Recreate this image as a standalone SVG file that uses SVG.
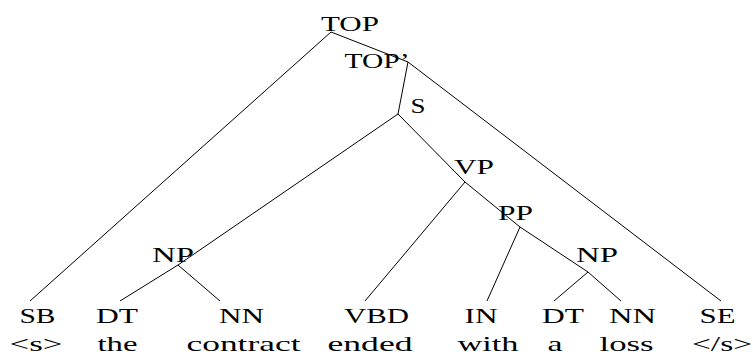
<svg xmlns="http://www.w3.org/2000/svg" width="753" height="356" viewBox="0 0 753 356">
<style>
text{font-family:"Liberation Serif","Times New Roman",serif;fill:#000;text-anchor:middle}
.n{font-size:20px}
.w{font-size:22px}
.e{stroke:#000;stroke-width:1;fill:none}
</style>
<rect width="753" height="356" fill="#fff"/>
<g id="connectors">
<line class="e" x1="331" y1="32" x2="30" y2="301"/>
<line class="e" x1="331" y1="32" x2="408" y2="62"/>
<line class="e" x1="408" y1="62" x2="398" y2="114"/>
<line class="e" x1="408" y1="62" x2="721" y2="301"/>
<line class="e" x1="398" y1="114" x2="178" y2="265"/>
<line class="e" x1="398" y1="114" x2="465" y2="182"/>
<line class="e" x1="178" y1="265" x2="120" y2="301"/>
<line class="e" x1="178" y1="265" x2="220" y2="301"/>
<line class="e" x1="465" y1="182" x2="365" y2="301"/>
<line class="e" x1="465" y1="182" x2="520" y2="227"/>
<line class="e" x1="520" y1="227" x2="487" y2="301"/>
<line class="e" x1="520" y1="227" x2="588" y2="272"/>
<line class="e" x1="588" y1="272" x2="554" y2="301"/>
<line class="e" x1="588" y1="272" x2="621" y2="301"/>
</g>
<g id="TOP"><text class="n" x="350" y="31" textLength="58" lengthAdjust="spacingAndGlyphs">TOP</text></g>
<g id="TOPp"><text class="n" x="377" y="68" textLength="65" lengthAdjust="spacingAndGlyphs">TOP’</text></g>
<g id="S"><text class="n" x="418" y="113" textLength="15" lengthAdjust="spacingAndGlyphs">S</text></g>
<g id="VP"><text class="n" x="474" y="174" textLength="40" lengthAdjust="spacingAndGlyphs">VP</text></g>
<g id="PP"><text class="n" x="515.5" y="220" textLength="35" lengthAdjust="spacingAndGlyphs">PP</text></g>
<g id="NP1"><text class="n" x="173" y="262" textLength="42" lengthAdjust="spacingAndGlyphs">NP</text></g>
<g id="NP2"><text class="n" x="597" y="262" textLength="42" lengthAdjust="spacingAndGlyphs">NP</text></g>
<g id="SB"><text class="n" x="37.5" y="323" textLength="36" lengthAdjust="spacingAndGlyphs">SB</text><text class="w" x="36" y="351" textLength="53" lengthAdjust="spacingAndGlyphs">&lt;s&gt;</text></g>
<g id="DT1"><text class="n" x="117" y="323" textLength="42" lengthAdjust="spacingAndGlyphs">DT</text><text class="w" x="117.5" y="351" textLength="40" lengthAdjust="spacingAndGlyphs">the</text></g>
<g id="NN1"><text class="n" x="241.5" y="323" textLength="45" lengthAdjust="spacingAndGlyphs">NN</text><text class="w" x="243.5" y="351" textLength="114" lengthAdjust="spacingAndGlyphs">contract</text></g>
<g id="VBD"><text class="n" x="376.5" y="323" textLength="65" lengthAdjust="spacingAndGlyphs">VBD</text><text class="w" x="370" y="351" textLength="85" lengthAdjust="spacingAndGlyphs">ended</text></g>
<g id="IN"><text class="n" x="481" y="323" textLength="33" lengthAdjust="spacingAndGlyphs">IN</text><text class="w" x="488" y="351" textLength="61" lengthAdjust="spacingAndGlyphs">with</text></g>
<g id="DT2"><text class="n" x="563" y="323" textLength="42" lengthAdjust="spacingAndGlyphs">DT</text><text class="w" x="555" y="351" textLength="15" lengthAdjust="spacingAndGlyphs">a</text></g>
<g id="NN2"><text class="n" x="632.5" y="323" textLength="47" lengthAdjust="spacingAndGlyphs">NN</text><text class="w" x="626.5" y="351" textLength="54" lengthAdjust="spacingAndGlyphs">loss</text></g>
<g id="SE"><text class="n" x="717.5" y="323" textLength="36" lengthAdjust="spacingAndGlyphs">SE</text><text class="w" x="722" y="351" textLength="60" lengthAdjust="spacingAndGlyphs">&lt;/s&gt;</text></g>
</svg>
